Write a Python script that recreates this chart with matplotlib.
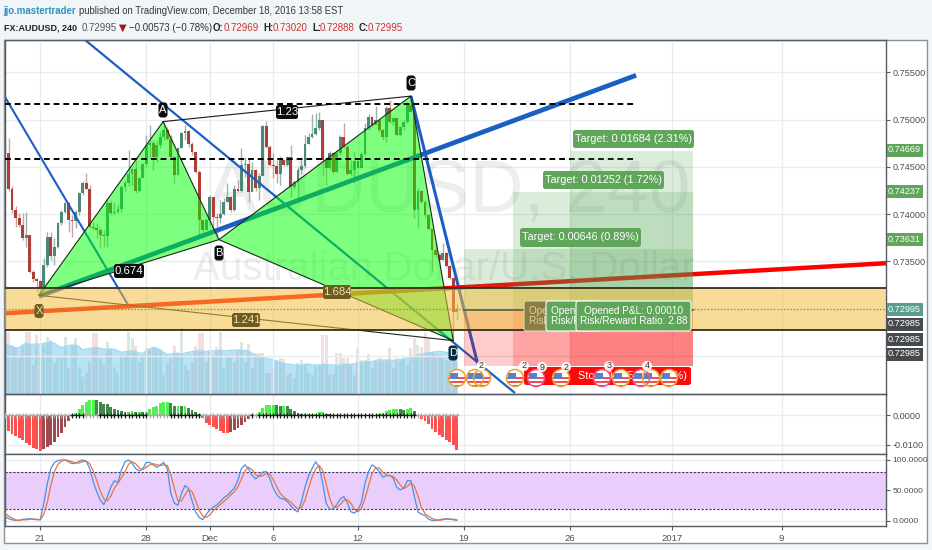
import numpy as np
import matplotlib
matplotlib.use("Agg")
import matplotlib.pyplot as plt
from matplotlib.patches import Circle, FancyBboxPatch, Rectangle

plt.rcParams["font.family"] = ["Liberation Sans", "DejaVu Sans"]

# 4h candles, prices in 1/10000
first_open = 7470
closes = [7465, 7427, 7404, 7396, 7388, 7375, 7378, 7339, 7331, 7329,
          7322, 7346, 7376, 7356, 7365, 7391, 7402, 7412, 7394, 7393,
          7402, 7422, 7433, 7427, 7386, 7385, 7383, 7378, 7377, 7412,
          7401, 7402, 7405, 7429, 7433, 7442, 7448, 7425, 7438, 7453,
          7473, 7475, 7460, 7473, 7482, 7489, 7480, 7460, 7441, 7470,
          7486, 7488, 7474, 7466, 7445, 7394, 7383, 7394, 7418, 7397,
          7396, 7400, 7413, 7418, 7404, 7427, 7425, 7452, 7453, 7423,
          7447, 7428, 7440, 7493, 7471, 7452, 7451, 7442, 7457, 7452,
          7461, 7429, 7434, 7447, 7451, 7474, 7482, 7485, 7491, 7500,
          7457, 7449, 7465, 7445, 7465, 7482, 7471, 7442, 7447, 7456,
          7449, 7464, 7491, 7503, 7494, 7500, 7489, 7482, 7512, 7498,
          7502, 7484, 7492, 7498, 7516, 7508, 7404, 7425, 7413, 7399,
          7384, 7362, 7357, 7351, 7359, 7345, 7332, 7296, 7299.5]
highs = [7478, 7481, 7430, 7409, 7401, 7401, 7402, 7378, 7341, 7332,
         7330, 7354, 7381, 7381, 7375, 7392, 7404, 7413, 7413, 7399,
         7404, 7423, 7435, 7444, 7431, 7392, 7391, 7386, 7383, 7417,
         7415, 7413, 7411, 7431, 7436, 7468, 7449, 7457, 7439, 7454,
         7484, 7494, 7478, 7478, 7487, 7498, 7492, 7484, 7462, 7471,
         7487, 7494, 7489, 7476, 7466, 7447, 7394, 7396, 7420, 7418,
         7401, 7415, 7417, 7433, 7419, 7431, 7436, 7470, 7460, 7459,
         7455, 7448, 7444, 7494, 7499, 7473, 7465, 7457, 7462, 7458,
         7462, 7473, 7436, 7450, 7460, 7484, 7486, 7506, 7507, 7508,
         7491, 7457, 7467, 7466, 7468, 7484, 7496, 7473, 7457, 7466,
         7457, 7466, 7496, 7506, 7504, 7515, 7500, 7490, 7514, 7521,
         7503, 7503, 7493, 7500, 7519, 7525, 7509, 7428, 7425, 7414,
         7400, 7385, 7369, 7359, 7369, 7360, 7346, 7332, 7305]
lows = [7463, 7425, 7401, 7386, 7386, 7373, 7365, 7338, 7328, 7317,
        7313, 7320, 7344, 7351, 7346, 7364, 7389, 7401, 7381, 7376,
        7385, 7399, 7420, 7427, 7385, 7383, 7375, 7365, 7365, 7365,
        7399, 7399, 7401, 7402, 7425, 7430, 7431, 7422, 7423, 7439,
        7450, 7459, 7447, 7455, 7470, 7478, 7478, 7459, 7433, 7441,
        7470, 7478, 7471, 7463, 7444, 7376, 7381, 7383, 7388, 7383,
        7376, 7391, 7399, 7413, 7402, 7403, 7423, 7423, 7439, 7413,
        7424, 7425, 7415, 7441, 7470, 7451, 7438, 7433, 7431, 7451,
        7451, 7418, 7427, 7418, 7443, 7449, 7474, 7481, 7484, 7489,
        7441, 7431, 7447, 7443, 7445, 7463, 7470, 7441, 7441, 7433,
        7449, 7449, 7463, 7489, 7492, 7495, 7487, 7478, 7476, 7496,
        7494, 7483, 7483, 7489, 7496, 7508, 7396, 7385, 7412, 7397,
        7383, 7339, 7355, 7350, 7351, 7344, 7331, 7267, 7288]

volume = [185, 185, 147, 142, 117, 147, 185, 185, 87, 177,
          112, 147, 172, 162, 92, 107, 107, 172, 77, 147,
          167, 82, 52, 62, 99, 182, 182, 109, 87, 157,
          135, 82, 62, 117, 117, 187, 167, 145, 97, 117,
          137, 137, 137, 137, 135, 57, 92, 109, 145, 122,
          197, 87, 72, 97, 145, 182, 182, 97, 132, 112,
          142, 185, 77, 107, 107, 97, 132, 157, 95, 149,
          77, 122, 122, 124, 62, 62, 77, 102, 107, 105,
          57, 62, 47, 92, 102, 87, 62, 57, 85, 85,
          177, 177, 57, 59, 122, 122, 107, 107, 87, 57,
          137, 102, 102, 119, 77, 102, 107, 100, 100, 139,
          77, 107, 99, 110, 87, 139, 167, 147, 142, 182,
          167, 127, 119, 117, 107, 102, 99, 102, 99]
volume_ma = [150, 147, 142, 139, 139, 147, 152, 149, 149, 150,
             149, 152, 154, 155, 152, 144, 140, 142, 145, 147,
             147, 142, 132, 135, 137, 139, 139, 137, 134, 135,
             135, 134, 129, 125, 127, 129, 129, 127, 123, 122,
             129, 135, 140, 137, 132, 124, 119, 120, 122, 122,
             120, 122, 125, 127, 129, 130, 129, 127, 129, 129,
             129, 132, 129, 130, 131, 132, 132, 131, 130, 129,
             122, 117, 114, 110, 107, 105, 102, 99, 95, 92,
             89, 89, 87, 87, 87, 89, 90, 87, 87, 87,
             89, 89, 87, 87, 85, 87, 89, 89, 89, 90,
             95, 95, 97, 97, 97, 101, 102, 102, 102, 102,
             101, 102, 104, 104, 107, 109, 114, 117, 119, 122,
             124, 125, 127, 127, 127, 125, 122, 122, 122]

# momentum histogram, read in units of 0.000114
momentum = [-40, -48, -55, -62, -68, -75, -82, -90, -97, -102,
            -107, -102, -96, -88, -80, -66, -52, -35, -18, 2,
            8, 20, 33, 42, 46, 47, 46, 40, 36, 34,
            27, 20, 16, 13, 12, 12, 13, 12, 12, 10,
            12, 20, 25, 30, 38, 42, 42, 38, 30, 30,
            28, 28, 22, 17, 10, 4, -8, -22, -28, -35,
            -42, -47, -52, -52, -50, -45, -38, -30, -20, -10,
            -3, 2, 12, 24, 31, 32, 32, 31, 30, 30,
            28, 20, 14, 8, 6, 5, 5, 5, 6, 10,
            10, 5, 4, 3, 3, 2, 2, 2, 2, 1,
            -1, -2, 1, -1, 2, 3, 4, 8, 14, 18,
            20, 20, 19, 17, 20, 22, 14, -3, -10, -18,
            -27, -40, -50, -58, -65, -73, -80, -90, -105]
squeeze_spans = [(19, 22), (27, 40), (47, 55), (70, 70), (72, 116)]

stoch_k = [8, 4, 2, 1, 1, 3, 3, 4, 3, 2,
           2, 29, 62, 86, 96, 99, 100, 100, 97, 94,
           95, 98, 100, 98, 86, 64, 48, 34, 27, 40,
           56, 66, 63, 84, 97, 100, 95, 86, 82, 85,
           96, 96, 92, 88, 92, 96, 85, 45, 29, 26,
           45, 58, 53, 33, 15, 6, 2, 11, 18, 23,
           26, 32, 38, 42, 48, 54, 67, 86, 92, 85,
           75, 69, 74, 80, 81, 70, 54, 43, 37, 36,
           32, 25, 18, 15, 32, 56, 74, 86, 97, 89,
           62, 29, 19, 20, 27, 36, 40, 30, 15, 13,
           18, 31, 62, 81, 92, 88, 81, 72, 74, 75,
           70, 55, 51, 54, 66, 66, 40, 15, 11, 9,
           3, 1, 1, 2, 3, 4, 3, 2, 1]
stoch_d = [13, 8, 5, 2, 1, 2, 2, 3, 3, 3,
           2, 11, 31, 59, 81, 93, 98, 100, 99, 97,
           95, 95, 97, 98, 94, 82, 66, 49, 36, 33,
           41, 54, 62, 71, 81, 93, 97, 94, 87, 84,
           88, 92, 94, 92, 91, 92, 91, 75, 53, 33,
           33, 43, 52, 48, 34, 18, 8, 6, 10, 17,
           22, 27, 32, 37, 43, 48, 56, 69, 82, 88,
           84, 76, 73, 74, 78, 77, 68, 56, 45, 39,
           35, 31, 25, 19, 22, 34, 54, 72, 85, 91,
           83, 60, 37, 23, 22, 27, 34, 35, 29, 19,
           15, 21, 37, 58, 78, 87, 87, 80, 76, 74,
           73, 67, 59, 53, 57, 62, 57, 41, 22, 12,
           8, 4, 2, 1, 2, 3, 3, 3, 2]

date_ticks = [10, 40, 58, 76, 100, 130, 160, 189, 220]
date_labels = ["21", "28", "Dec", "6", "12", "19", "26", "2017", "9"]
price_ticks = [0.755, 0.75, 0.745, 0.74, 0.735, 0.73, 0.725]
# the last two labels are hidden behind the price tags in the reference
price_tick_labels = ["0.75500", "0.75000", "0.74500", "0.74000", "0.73500", "", ""]

# harmonic pattern pivots (bar, price)
pivot_x = (9.6, 0.7314)
pivot_a = (44.8, 0.7498)
pivot_b = (60.6, 0.7373)
pivot_c = (115.0, 0.7525)
pivot_d = (127.0, 0.7266)

# drawn trend lines (bar, price) pairs
thick_trend = [(9.6, 0.7313), (178.8, 0.7547)]
thin_trend_1 = [(22.7, 0.75844), (144.5, 0.72105)]
thin_trend_2 = [(0.0, 0.7524), (35.4, 0.73005)]
drop_trend = [(115.0, 0.7525), (134.0, 0.7240)]
red_trend = [(0.0, 0.7295), (249.6, 0.7348)]
dashed_levels = [0.7517, 0.7458]
zone_top, zone_bottom = 0.7322, 0.7277

entry_price = 0.72985
stop_price = 0.7239
target_prices = [0.73631, 0.74237, 0.74669]
position_starts = [130, 144, 160]
position_end = 195

GRID = "#e9ecee"
AXIS = "#555b60"
TEXT = "#4a4f54"
LABEL_GREEN = "#5fa55a"
TICK_SIZE = 6.6

W, H = 932, 550
fig = plt.figure(figsize=(W / 100, H / 100), dpi=100, facecolor="#f1f5f8")


def pane(top, bottom, left=5, right=886):
    return fig.add_axes([left / W, 1 - bottom / H, (right - left) / W, (bottom - top) / H])


# white chart card behind everything
card = fig.add_axes([0, 0, 1, 1], zorder=0)
card.set_xlim(0, W)
card.set_ylim(H, 0)
card.axis("off")
card.add_patch(Rectangle((4, 40), 923, 503, fc="white", ec="#8d9297", lw=1))

n = len(closes)
bars = np.arange(n)
closes_p = np.array(closes) / 10000
opens_p = np.r_[first_open / 10000, closes_p[:-1]]
highs_p = np.array(highs) / 10000
lows_p = np.array(lows) / 10000
up = closes_p >= opens_p

xlim = (0, 249.6)

# volume sits under the price pane
ax_vol = pane(40, 394)
ax_vol.set_zorder(1)
ax_vol.set_xlim(xlim)
ax_vol.set_ylim(0, 1062)
ax_vol.axis("off")
ax_vol.bar(bars, volume, width=0.85, color=[(0.35, 0.6, 0.43, 0.22) if u else (0.75, 0.43, 0.39, 0.22) for u in up])
ax_vol.fill_between(bars, 0, volume_ma, color=(0.39, 0.75, 0.93, 0.45), lw=0)
ax_vol.plot(bars, volume_ma, color="#a5d9f5", lw=1)

ax = pane(40, 394)
ax.set_zorder(2)
ax.patch.set_visible(False)
ax.set_xlim(xlim)
ax.set_ylim(0.72095, 0.75844)

ax.text(449 / W, 1 - 192 / H, "AUDUSD, 240", transform=fig.transFigure, fontsize=54, color="black",
        alpha=0.07, ha="center", va="center", zorder=1)
ax.text(444 / W, 1 - 269 / H, "Australian Dollar/U.S. Dollar", transform=fig.transFigure, fontsize=29,
        color="black", alpha=0.07, ha="center", va="center", zorder=1)

ax.vlines(bars, lows_p, highs_p, colors=["#9db0ac" if u else "#c4a6a0" for u in up], lw=1.0, zorder=2)
body = np.maximum(np.abs(closes_p - opens_p), 0.00008)
ax.bar(bars, body, bottom=np.minimum(closes_p, opens_p), width=0.8,
       color=["#4c8878" if u else "#ad3f38" for u in up], zorder=2.1)

for line, lw in [(thin_trend_1, 1.6), (thin_trend_2, 1.5), (drop_trend, 2.2), (thick_trend, 3.4)]:
    ax.plot(*zip(*line), color="#1b5ec4", lw=lw, zorder=2.3, solid_capstyle="butt")
ax.plot(*zip(*red_trend), color="#ff0000", lw=3.2, zorder=2.3, solid_capstyle="butt")

for tri in ([pivot_x, pivot_a, pivot_b], [pivot_b, pivot_c, pivot_d]):
    ax.fill(*zip(*tri), color=(0, 1, 0, 0.5), lw=0, zorder=3)
legs = [pivot_x, pivot_a, pivot_b, pivot_c, pivot_d, pivot_b, pivot_x, pivot_d]
ax.plot(*zip(*legs), color="#1a2a1a", lw=0.8, zorder=3.1)
ax.plot(*zip(pivot_a, pivot_c), color="#1a1a1a", lw=0.8, zorder=3.1)

for level in dashed_levels:
    ax.plot([0, 178.5], [level, level], color="black", lw=1.4, ls=(0, (3, 2)), zorder=3.2)

for start, target in zip(position_starts, target_prices):
    ax.add_patch(Rectangle((start, entry_price), position_end - start, target - entry_price,
                           fc=(0.3, 0.63, 0.31, 0.2), lw=0, zorder=3.4))
    ax.add_patch(Rectangle((start, stop_price), position_end - start, entry_price - stop_price,
                           fc=(1, 0, 0, 0.2), lw=0, zorder=3.4))

ax.axhspan(zone_bottom, zone_top, fc=(0.95, 0.75, 0.25, 0.55), lw=0, zorder=4)
ax.axhline(zone_top, color="#33301f", lw=1.3, zorder=4.1)
ax.axhline(zone_bottom, color="#33301f", lw=1.3, zorder=4.1)
ax.axhline(closes_p[-1], color="#6f8f78", lw=0.9, ls=":", zorder=4.2)
ax.plot([position_starts[0], position_end], [entry_price, entry_price], color="#5c5c50", lw=1.2, zorder=4.2)

ax.set_xticks(date_ticks)
ax.set_yticks(price_ticks, price_tick_labels)
ax.yaxis.tick_right()
ax.grid(True, color=GRID, lw=1)
ax.set_axisbelow(True)
ax.tick_params(axis="x", length=0, labelbottom=False)
ax.tick_params(axis="y", length=3, color=AXIS, labelcolor=TEXT, labelsize=TICK_SIZE, pad=2)

# momentum pane
ax_mom = pane(394, 454)
ax_mom.set_xlim(xlim)
ax_mom.set_ylim(-0.01318, 0.00736)
mom = np.array(momentum) * 0.000114
prev = np.r_[mom[0], mom[:-1]]
mom_colors = []
for value, before in zip(mom, prev):
    if value >= 0:
        mom_colors.append("#52f052" if value >= before else "#3f8a4a")
    else:
        mom_colors.append("#ff5050" if value <= before else "#a04a50")
ax_mom.bar(bars, mom, width=0.8, color=mom_colors, zorder=2)
squeeze = np.zeros(n, dtype=bool)
for a, b in squeeze_spans:
    squeeze[a:b + 1] = True
ax_mom.scatter(bars, np.zeros(n), marker="+", s=11, lw=0.9, zorder=3,
               c=["#1c1c1c" if s else "#a6a9a9" for s in squeeze])
ax_mom.set_xticks(date_ticks)
ax_mom.set_yticks([0, -0.01], ["0.0000", "-0.0100"])
ax_mom.yaxis.tick_right()
ax_mom.grid(True, color=GRID, lw=1)
ax_mom.set_axisbelow(True)
ax_mom.tick_params(axis="x", length=0, labelbottom=False)
ax_mom.tick_params(axis="y", length=3, color=AXIS, labelcolor=TEXT, labelsize=TICK_SIZE, pad=2)

# stochastic pane
ax_st = pane(454, 526)
ax_st.set_xlim(xlim)
ax_st.set_ylim(-8.2, 109.8)
ax_st.axhspan(20, 80, fc="#e9cdfb", lw=0, zorder=1)
ax_st.axhline(80, color="#3a3550", lw=0.8, ls=(0, (2, 1.5)), zorder=1.5)
ax_st.axhline(20, color="#3a3550", lw=0.8, ls=(0, (2, 1.5)), zorder=1.5)
ax_st.plot(bars, stoch_k, color="#4a90e2", lw=0.9, zorder=3)
ax_st.plot(bars, stoch_d, color="#e8743f", lw=0.9, zorder=3)
ax_st.set_xticks(date_ticks, date_labels)
ax_st.set_yticks([100, 50, 0], ["100.0000", "50.0000", "0.0000"])
ax_st.yaxis.tick_right()
ax_st.grid(True, color=GRID, lw=1)
ax_st.set_axisbelow(True)
ax_st.tick_params(axis="x", length=3, color=AXIS, labelcolor=TEXT, labelsize=6.8, pad=3)
ax_st.tick_params(axis="y", length=3, color=AXIS, labelcolor=TEXT, labelsize=6, pad=1.5)

for a_ in (ax, ax_mom, ax_st):
    for side in a_.spines:
        a_.spines[side].set_color(AXIS)
        a_.spines[side].set_linewidth(1)

# everything that floats on top of the panes, placed in pixels
ov = fig.add_axes([0, 0, 1, 1], zorder=5)
ov.set_xlim(0, W)
ov.set_ylim(H, 0)
ov.axis("off")
ov.patch.set_visible(False)


def tag(x0, y0, x1, y1, text, fc=LABEL_GREEN, color="white", size=7.8, ec="none", weight="normal", radius=1.5, z=6):
    box = FancyBboxPatch((x0 + radius, y0 + radius), x1 - x0 - 2 * radius, y1 - y0 - 2 * radius,
                         boxstyle=f"round,pad={radius},rounding_size={radius + 1}",
                         fc=fc, ec=ec, lw=0.8, zorder=z)
    ov.add_patch(box)
    label = ov.text((x0 + x1) / 2, (y0 + y1) / 2, text, color=color, fontsize=size, ha="center", va="center",
                    weight=weight, zorder=z, linespacing=1.1)
    label.set_clip_path(box)
    return label


def us_flag(cx, cy, ring):
    r = 8.5
    disc = Circle((cx, cy), r, fc="white", ec="none", zorder=7)
    ov.add_patch(disc)
    for y in (cy - 1, cy + 3, cy + 6.5):
        stripe = Rectangle((cx - r, y), 2 * r, 1.8, fc="#ef4f55", lw=0, zorder=7.1)
        ov.add_patch(stripe)
        stripe.set_clip_path(disc)
    canton = Rectangle((cx - r + 1.5, cy - 5.5), 7.5, 6.5, fc="#5f7fc4", lw=0, zorder=7.2)
    ov.add_patch(canton)
    canton.set_clip_path(disc)
    ov.add_patch(Circle((cx, cy), r, fc="none", ec=ring, lw=1.1, zorder=7.3))


flags = [(457, "#f0a030"), (475, "#f0a030"), (482, "#f0a030"), (515, "#f0a030"), (536, "#ef5080"),
         (561, "#f0a030"), (602, "#ef5080"), (621, "#f0a030"), (641, "#ef5080"), (651, "#f0a030"), (669, "#f0a030")]
badges = [(481, 366, "2"), (524, 366, "2"), (542, 367, "9"), (566, 367, "2"), (609, 366, "3"), (647, 366, "4")]

stop_label = tag(524, 367, 691, 385, "Stop: 0.00584 (0.80%)", fc="#fa0a0a", size=7.8)
stop_label.set_ha("right")
stop_label.set_position((687, 376))
for x, ring in flags:
    us_flag(x, 378, ring)
for x, y, label in badges:
    ov.add_patch(Circle((x, y), 5, fc="white", ec="none", alpha=0.9, zorder=8))
    ov.text(x, y, label, fontsize=6.4, color="#333333", ha="center", va="center", zorder=8)

tag(573, 130, 694, 148, "Target: 0.01684 (2.31%)")
tag(543, 171, 664, 189, "Target: 0.01252 (1.72%)")
tag(520, 228, 641, 247, "Target: 0.00646 (0.89%)")

first_open_box = tag(524, 301, 580, 331, "Opened P&L: 0.00010\nRisk/Reward Ratio: 2.88", fc="#8c7d45", color="#e2cf9c",
                     ec="#ddd9b0", size=7.2, z=6)
first_open_box.set_ha("left")
first_open_box.set_position((529, 316))
second_open_box = tag(546, 301, 600, 331, "Opened P&L: 0.00010\nRisk/Reward Ratio: 2.88", ec="white", size=7.2, z=6.1)
second_open_box.set_ha("left")
second_open_box.set_position((551, 316))
tag(576, 301, 691, 331, "Opened P&L: 0.00010\nRisk/Reward Ratio: 2.88", ec="white", size=7.2, z=6.2)

for y, label, fc in [(150, "0.74669", LABEL_GREEN), (191, "0.74237", LABEL_GREEN), (239, "0.73631", LABEL_GREEN),
                     (309, "0.72995", "#5a9d8c"), (324, "0.72985", "#474a4c"), (339, "0.72985", "#474a4c"),
                     (354, "0.72985", "#474a4c")]:
    ov.add_patch(Rectangle((887, y - 6.5), 35.5, 13, fc=fc, lw=0, zorder=6))
    ov.text(904.5, y, label, color="white", fontsize=TICK_SIZE, ha="center", va="center", zorder=6)

for x, y, label in [(163, 110, "A"), (219, 253, "B"), (411, 83, "C"), (453, 353, "D")]:
    tag(x - 4.5, y - 7.5, x + 4.5, y + 7.5, label, fc="#0c0c0c" if label != "D" else "#0b2a45", size=8, radius=2)
tag(39 - 4.5, 304, 39 + 4.5, 318, "X", fc="#6d5c20", color="#f0e3b0", size=8, radius=2)
tag(114, 264, 144, 278, "0.674", fc="#0c0c0c", size=8.2)
tag(276, 105, 298, 119, "1.23", fc="#0c0c0c", size=8.2)
tag(323, 285, 351, 299, "1.684", fc="#6d5c20", color="#f0e3b0", size=8.2)
tag(232, 313, 260, 327, "1.241", fc="#6d5c20", color="#f0e3b0", size=8.2)

# header
ov.text(3, 11, "jjo.mastertrader", color="#2b93c6", fontsize=6.9, ha="left", va="center", weight="bold")
ov.text(79, 11, "published on TradingView.com, December 18, 2016 13:58 EST", color="#33383c", fontsize=6.85,
        ha="left", va="center")
ov.text(4, 28, "FX:AUDUSD, 240", color="#222222", fontsize=6.5, ha="left", va="center", weight="bold")
ov.text(82, 28, "0.72995", color="#555555", fontsize=7, ha="left", va="center")
ov.text(123, 28, "▼", color="#a01616", fontsize=7, ha="center", va="center", family="DejaVu Sans")
ov.text(129, 28, "−0.00573 (−0.78%)", color="#333333", fontsize=7, ha="left", va="center")
ohlc_names = ["O:", "H:", "L:", "C:"]
ohlc_values = ["0.72969", "0.73020", "0.72888", "0.72995"]
ohlc_name_x = [213, 263, 312, 359]
ohlc_value_x = [224, 273, 320, 368]
for name, value, xn, xv in zip(ohlc_names, ohlc_values, ohlc_name_x, ohlc_value_x):
    ov.text(xn, 28, name, color="#222222", fontsize=7, ha="left", va="center", weight="bold")
    ov.text(xv, 28, value, color="#c8372f", fontsize=7, ha="left", va="center")

fig.savefig("out.png", dpi=100, facecolor=fig.get_facecolor())
